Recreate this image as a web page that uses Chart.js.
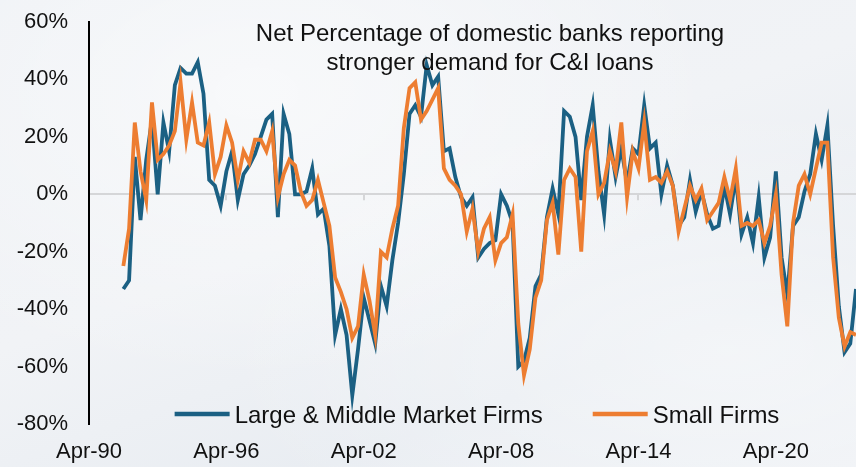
<!DOCTYPE html>
<html lang="en">
<head>
  <meta charset="UTF-8" />
  <title>C&amp;I Loan Demand</title>
  <script src="https://cdn.jsdelivr.net/npm/chart.js"></script>
  <style>
    html, body {
      margin: 0;
      padding: 0;
    }
    body {
      width: 856px;
      height: 467px;
      overflow: hidden;
      background: #edf0f4;
      background-image:
        radial-gradient(ellipse at 30% 20%, rgba(255,255,255,0.55), rgba(255,255,255,0) 55%),
        radial-gradient(ellipse at 85% 75%, rgba(255,255,255,0.45), rgba(255,255,255,0) 50%),
        linear-gradient(160deg, #eef1f5 0%, #f1f3f6 45%, #e9edf2 75%, #eef1f5 100%);
    }
    canvas {
      display: block;
    }
  </style>
</head>
<body>
  <canvas id="demandChart" width="856" height="467"></canvas>

  <script>
    const FONT = '"Liberation Sans", Arial, sans-serif';

    // quarterly survey dates, Apr-90 onward
    const months = ['Jan', 'Apr', 'Jul', 'Oct'];
    const quarters = [];
    for (let i = 0; i < 135; i++) {
      const q = i + 1;
      const yr = (1990 + Math.floor(q / 4)) % 100;
      quarters.push(months[q % 4] + '-' + String(yr).padStart(2, '0'));
    }

    const tickLabels = ['Apr-90', 'Apr-96', 'Apr-02', 'Apr-08', 'Apr-14', 'Apr-20'];
    const yTicks = [-80, -60, -40, -20, 0, 20, 40, 60];

    const titleLines = ['Net Percentage of domestic banks reporting', 'stronger demand for C&I loans'];

    const largeFirms = [null, null, null, null, null, null,
      -33, -30, 13, -9, 12, 26, 0, 25, 15, 38,
      44, 42, 42, 46, 35, 5, 3, -4, 8, 15,
      -2, 7, 10, 14, 20, 26, 28, -8, 28, 21,
      0, 0, 1, 9, -7, -5, -18, -49, -40, -49,
      -70, -54, -36, -44, -52, -32, -39, -23, -10, 7,
      28, 31, 27, 45, 38, 41, 15, 16, 6, -1,
      -4, -1, -22, -19, -17, -16, 0, -4, -10, -60,
      -58, -50, -32, -28, -8, 2, -7, 29, 27, 20,
      -2, 20, 31, 8, -7, 19, 6, 16, 4, 16,
      14, 31, 16, 18, 0, 10, 3, -11, -8, 5,
      -6, 1, -7, -12, -11, 3, -7, 6, -14, -8,
      -17, -1, -22, -15, 8, -22, -35, -11, -8, 1,
      7, 21, 12, 24, -11, -39, -55, -52, -33];

    const smallFirms = [null, null, null, null, null, null,
      -25, -12, 25, 8, -2, 32, 12, 14, 17, 22,
      39, 19, 32, 18, 17, 25, 7, 13, 24, 18,
      5, 15, 11, 19, 19, 15, 22, -1, 7, 12,
      10, 1, -4, -2, 5, -3, -11, -29, -34, -40,
      -50, -46, -28, -37, -49, -20, -22, -12, -4, 23,
      37, 39, 26, 29, 33, 37, 9, 5, 3, 0,
      -13, -5, -20, -12, -8, -23, -17, -15, -7, -45,
      -63, -54, -36, -30, -9, -3, -21, 5, 9, 6,
      -20, 15, 22, 0, 4, 15, 8, 25, -1, 15,
      9, 25, 5, 6, 4, 8, 3, -13, -5, 3,
      -2, 2, -9, -6, -3, 6, -2, 9, -11, -10,
      -11, -9, -17, -11, 0, -28, -46, -10, 3, 7,
      0, 9, 18, 18, -22, -43, -53, -48, -49];

    const BLUE = '#1b6083';
    const ORANGE = '#ed7d31';
    const ZERO_GREY = '#d5d6d8';

    // small tick marks hanging off the zero line (none on the y axis itself)
    const zeroTicks = {
      id: 'zeroTicks',
      beforeDatasetsDraw(chart) {
        const { ctx, chartArea, scales: { x, y } } = chart;
        const y0 = y.getPixelForValue(0);
        ctx.save();
        ctx.strokeStyle = ZERO_GREY;
        ctx.lineWidth = 2;
        x.ticks.forEach(t => {
          const px = Math.round(x.getPixelForValue(t.value));
          if (px <= chartArea.left + 2) return;
          ctx.beginPath();
          ctx.moveTo(px, y0);
          ctx.lineTo(px, y0 + 6);
          ctx.stroke();
        });
        ctx.restore();
      }
    };

    // title sits inside the plot, top centre
    const innerTitle = {
      id: 'innerTitle',
      afterDraw(chart) {
        const ctx = chart.ctx;
        ctx.save();
        ctx.font = '24px ' + FONT;
        ctx.fillStyle = '#111';
        ctx.textAlign = 'center';
        ctx.textBaseline = 'alphabetic';
        ctx.fillText(titleLines[0], 490, 41);
        ctx.fillText(titleLines[1], 490, 70);
        ctx.restore();
      }
    };

    // legend drawn along the bottom of the plot area
    const innerLegend = {
      id: 'innerLegend',
      afterDraw(chart) {
        const ctx = chart.ctx;
        const sample = 55, gap = 5, spacing = 50;
        ctx.save();
        ctx.font = '24px ' + FONT;
        const sets = chart.data.datasets;
        const widths = sets.map(d => ctx.measureText(d.label).width);
        const total = widths.reduce((a, w) => a + sample + gap + w, 0) + spacing * (sets.length - 1);
        let x = 477 - total / 2;
        const ly = 414;
        sets.forEach((d, i) => {
          ctx.strokeStyle = d.borderColor;
          ctx.lineWidth = 4.5;
          ctx.beginPath();
          ctx.moveTo(x, ly);
          ctx.lineTo(x + sample, ly);
          ctx.stroke();
          ctx.fillStyle = '#111';
          ctx.textAlign = 'left';
          ctx.textBaseline = 'alphabetic';
          ctx.fillText(d.label, x + sample + gap, 423);
          x += sample + gap + widths[i] + spacing;
        });
        ctx.restore();
      }
    };

    new Chart(document.getElementById('demandChart'), {
      type: 'line',
      data: {
        labels: quarters,
        datasets: [
          {
            label: 'Large & Middle Market Firms',
            data: largeFirms,
            borderColor: BLUE,
            borderWidth: 3.8,
            pointRadius: 0,
            tension: 0,
            order: 1
          },
          {
            label: 'Small Firms',
            data: smallFirms,
            borderColor: ORANGE,
            borderWidth: 3.8,
            pointRadius: 0,
            tension: 0,
            order: 0
          }
        ]
      },
      options: {
        responsive: false,
        animation: false,
        devicePixelRatio: 1,
        layout: { padding: { top: 22, right: 0, bottom: 0, left: 0 } },
        plugins: {
          legend: { display: false },
          title: { display: false },
          tooltip: { enabled: false }
        },
        scales: {
          x: {
            type: 'category',
            offset: false,
            grid: { display: false, drawTicks: false },
            border: { display: false },
            ticks: {
              autoSkip: false,
              maxRotation: 0,
              padding: 15,
              color: '#111',
              font: { family: FONT, size: 22 }
            },
            afterBuildTicks: s => {
              s.ticks = s.ticks.filter(t => tickLabels.includes(quarters[t.value]));
            },
            afterFit: s => { s.height = 43; }
          },
          y: {
            min: yTicks[0],
            max: yTicks[yTicks.length - 1],
            afterBuildTicks: s => { s.ticks = yTicks.map(v => ({ value: v })); },
            ticks: {
              padding: 21,
              color: '#111',
              font: { family: FONT, size: 22 },
              callback: v => v + '%'
            },
            grid: {
              color: c => (c.tick && c.tick.value === 0) ? ZERO_GREY : 'rgba(0,0,0,0)',
              lineWidth: 2,
              drawTicks: false
            },
            border: { color: '#000', width: 2 },
            afterFit: s => {
              s.width = 89;
              s.paddingTop = 0;
              s.paddingBottom = 0;
            }
          }
        }
      },
      plugins: [zeroTicks, innerTitle, innerLegend]
    });
  </script>
</body>
</html>
